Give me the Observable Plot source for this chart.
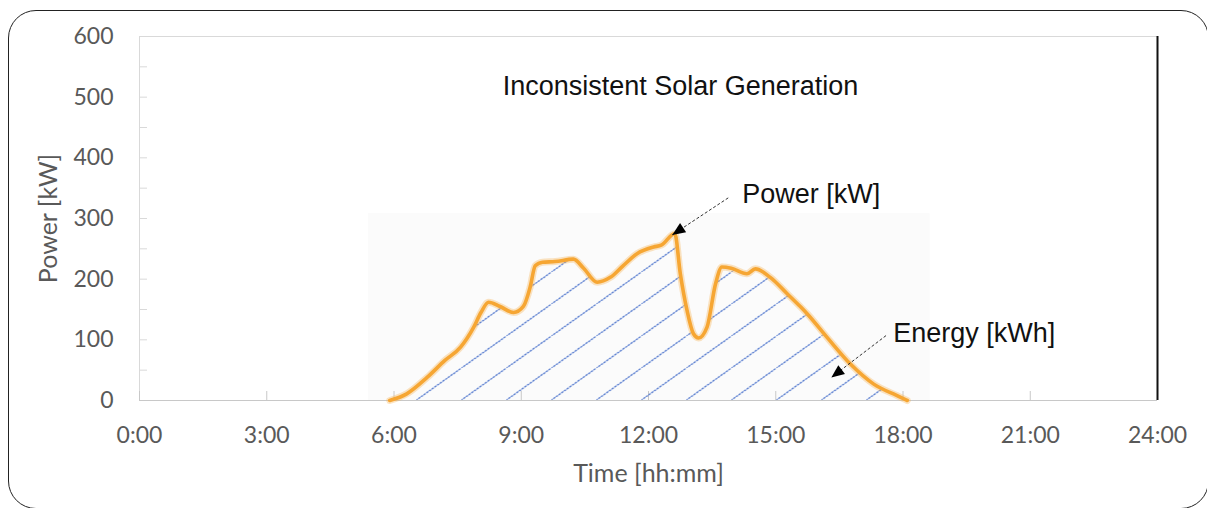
<!DOCTYPE html>
<html>
<head>
<meta charset="utf-8">
<script src="https://cdn.jsdelivr.net/npm/d3@7"></script>
<script src="https://cdn.jsdelivr.net/npm/@observablehq/plot@0.6"></script>
<style>
  html, body { margin: 0; padding: 0; background: #fff; overflow: hidden; }
  #wrap { position: relative; width: 1207px; height: 508px; }
  #border { position: absolute; left: 8px; top: 10px; width: 1201px; height: 499px;
    border: 1.6px solid #222; border-radius: 28px; box-sizing: border-box; pointer-events: none; }
</style>
</head>
<body>
<div id="wrap"><div id="chart"></div><div id="border"></div></div>
<script>
// ---- data ----
const hours = [5.9, 6.3, 6.78, 7.2, 7.57, 7.88, 8.05, 8.23, 8.5, 8.82, 9.05, 9.21, 9.33, 9.5, 9.8, 10.23, 10.47, 10.79, 11.1, 11.4, 11.73, 12.12, 12.3, 12.62, 12.75, 12.91, 13.06, 13.18, 13.38, 13.58, 13.73, 13.95, 14.32, 14.52, 14.87, 15.27, 15.59, 15.74, 16.21, 16.76, 17.31, 17.86, 18.1];
const powerKW = [0, 11, 38, 66, 88, 121, 145, 162, 155, 145, 155, 187, 222, 228, 229, 233, 218, 195, 203, 222, 242, 253, 256, 275, 209, 148, 110, 103, 121, 192, 220, 218, 209, 217, 203, 176, 154, 143, 104, 60, 27, 8, 0];
const xTicks = [0, 3, 6, 9, 12, 15, 18, 21, 24];
const xTickLabels = ["0:00", "3:00", "6:00", "9:00", "12:00", "15:00", "18:00", "21:00", "24:00"];
const yTicks = [0, 100, 200, 300, 400, 500, 600];
const yMinorTicks = [0, 50, 100, 150, 200, 250, 300, 350, 400, 450, 500, 550, 600];
const titleText = ["Inconsistent Solar Generation"];
const annotationLabels = ["Power [kW]", "Energy [kWh]"];
const annotationX = [14.21, 17.77];
const annotationY = [339, 110];
const arrowFromX = [13.88, 17.6];
const arrowFromY = [334, 107];
const arrowToX = [12.56, 16.31];
const arrowToY = [273, 38];
const backdropX = [5.4, 18.64];
const backdropY = [0, 308];

// ---- build tables ----
const series = hours.map((h, i) => ({h, p: powerKW[i]}));
const annotations = annotationLabels.map((label, i) => ({label, x: annotationX[i], y: annotationY[i]}));
const arrows = arrowFromX.map((_, i) => ({x1: arrowFromX[i], y1: arrowFromY[i], x2: arrowToX[i], y2: arrowToY[i]}));
const backdrop = [{x1: backdropX[0], x2: backdropX[1], y1: backdropY[0], y2: backdropY[1]}];

const W = 1207, H = 508, mL = 139, mR = 50, mT = 36, mB = 108;
const xs = Plot.scale({x: {domain: [0, 24], range: [mL, W - mR]}});
const ys = Plot.scale({y: {domain: [0, 600], range: [H - mB, mT]}});
const angle = d => {
  const dx = xs.apply(d.x2) - xs.apply(d.x1);
  const dy = ys.apply(d.y2) - ys.apply(d.y1);
  return Math.atan2(dx, -dy) * 180 / Math.PI;
};
const headSymbol = {
  draw(ctx) { ctx.moveTo(0, 0); ctx.lineTo(5.5, 13); ctx.lineTo(-5.5, 13); ctx.closePath(); }
};

const grid = "#d9d9d9";
const tickText = "#595959";
const sans = "Liberation Sans, Arial, sans-serif";

const chart = Plot.plot({
  width: W, height: H,
  marginLeft: mL, marginRight: mR, marginTop: mT, marginBottom: mB,
  style: {fontFamily: "Lato, sans-serif", background: "transparent", overflow: "visible"},
  x: {domain: [0, 24]},
  y: {domain: [0, 600]},
  marks: [
    Plot.rect(backdrop, {x1: "x1", x2: "x2", y1: "y1", y2: "y2", fill: "#fbfbfb"}),
    Plot.ruleY([600], {stroke: grid}),
    Plot.ruleX([0], {stroke: grid}),
    Plot.tickY(yMinorTicks, {y: d => d, insetRight: (W - mL - mR) - 8, stroke: grid}),
    Plot.tickX(xTicks, {x: d => d, insetTop: (H - mT - mB) - 9, stroke: "#c8c8c8"}),
    Plot.axisY(yTicks, {tickSize: 0, tickPadding: 26, fontSize: 23, fill: tickText, label: null}),
    Plot.axisX(xTicks, {tickSize: 0, tickPadding: 26, fontSize: 23, fill: tickText, label: null,
      tickFormat: d => xTickLabels[xTicks.indexOf(d)]}),
    Plot.text(["Power [kW]"], {frameAnchor: "left", rotate: -90, dx: -91, textAnchor: "middle", fontSize: 25, fill: tickText, lineAnchor: "middle"}),
    Plot.text(["Time [hh:mm]"], {frameAnchor: "bottom", dy: 73, textAnchor: "middle", fontSize: 25, fill: tickText, lineAnchor: "middle"}),
    Plot.areaY(series, {x: "h", y: "p", curve: "monotone-x", fill: "url(#hatch)"}),
    Plot.ruleY([0], {stroke: "#c8c8c8"}),
    Plot.ruleX([24], {stroke: "#111", strokeWidth: 2}),
    Plot.line(series, {x: "h", y: "p", curve: "monotone-x", stroke: "#f7b24f", strokeWidth: 7, strokeOpacity: 0.35}),
    Plot.line(series, {x: "h", y: "p", curve: "monotone-x", stroke: "#f6a633", strokeWidth: 3.6}),
    Plot.text(titleText, {frameAnchor: "top", dx: 32, dy: 50, lineAnchor: "middle", fontSize: 27, fontFamily: sans, fill: "#111"}),
    Plot.link(arrows, {x1: "x1", y1: "y1", x2: "x2", y2: "y2", stroke: "#333", strokeWidth: 1, strokeDasharray: "3,2"}),
    Plot.dot(arrows, {x: "x2", y: "y2", symbol: headSymbol, rotate: angle, fill: "#000", stroke: "none"}),
    Plot.text(annotations, {x: "x", y: "y", text: "label", textAnchor: "start", lineAnchor: "middle", fontSize: 27, fontFamily: sans, fill: "#111"})
  ]
});

// hatch pattern definition
const ns = "http://www.w3.org/2000/svg";
const defs = document.createElementNS(ns, "defs");
const pat = document.createElementNS(ns, "pattern");
pat.setAttribute("id", "hatch");
pat.setAttribute("patternUnits", "userSpaceOnUse");
pat.setAttribute("x", "416.5");
pat.setAttribute("y", "400");
pat.setAttribute("width", "45");
pat.setAttribute("height", "32");
const pl = document.createElementNS(ns, "path");
pl.setAttribute("d", "M-9,38.4L54,-6.4");
pl.setAttribute("stroke", "#4a72cc");
pl.setAttribute("stroke-width", "1.2");
pl.setAttribute("stroke-dasharray", "2.5,0.8");
pl.setAttribute("fill", "none");
pat.appendChild(pl);
defs.appendChild(pat);
chart.insertBefore(defs, chart.firstChild);

document.getElementById("chart").appendChild(chart);
</script>
</body>
</html>
